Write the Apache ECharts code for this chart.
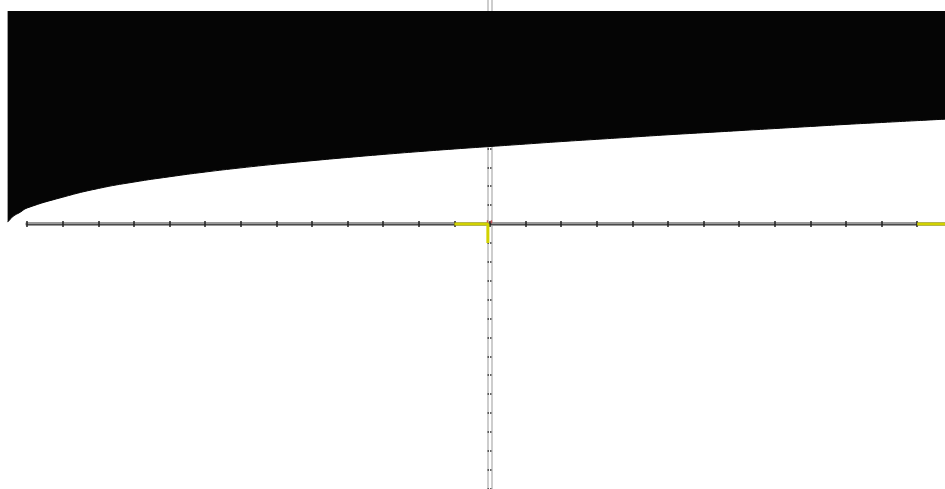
<!DOCTYPE html>
<html>
<head>
<meta charset="utf-8">
<script src="https://cdn.jsdelivr.net/npm/echarts@6/dist/echarts.min.js"></script>
<style>
  html, body { margin: 0; padding: 0; background: #fff; }
  #chart { width: 945px; height: 489px; }
</style>
</head>
<body>
<div id="chart"></div>
<script>
// x positions where the lower edge of the dark band was read
const xs = [-13.55, -13.5, -13.4, -13.2, -13, -12, -11, -10, -9, -8, -7, -6, -5, -4, -3, -2, -1,
            0, 1, 2, 3, 4, 5, 6, 7, 8, 9, 10, 11, 12, 13];
// lower edge of the band (y values); the band fills up to its top edge
const lower = [0.1, 0.2, 0.4, 0.62, 0.85, 1.42, 1.88, 2.22, 2.5, 2.75, 2.97, 3.17, 3.35, 3.52, 3.68, 3.83, 3.97,
               4.1, 4.23, 4.36, 4.48, 4.6, 4.72, 4.83, 4.94, 5.05, 5.16, 5.27, 5.37, 5.47, 5.57];
const bandTop = 11.27;
// yellow highlight segments
const yellowA = [[-1, 0], [-0.06, 0], [-0.06, -1]];
const yellowB = [[12, 0], [13, 0]];
const originMarks = [[-0.07, 0.12], [0.04, 0.12]];

const lowerData = xs.map((x, i) => [x, lower[i]]);

const hidden = { axisLine: { show: false }, axisTick: { show: false }, axisLabel: { show: false }, splitLine: { show: false } };

const chart = echarts.init(document.getElementById('chart'));
const option = {
  animation: false,
  grid: [
    // data grid: x -14..13, y -14..bandTop
    { left: -8.4, width: 961.2, top: 11, bottom: 0.4, outerBoundsMode: 'none' },
    // double vertical axis
    { left: 487.5, width: 4, top: -2.8, height: 491.4, outerBoundsMode: 'none' },
    // horizontal axis, drawn at y = 224
    { left: 27.2, width: 925.6, top: 0, height: 224, outerBoundsMode: 'none' }
  ],
  xAxis: [
    Object.assign({ type: 'value', gridIndex: 0, min: -14, max: 13 }, hidden),
    Object.assign({ type: 'value', gridIndex: 1, min: 0, max: 1 }, hidden),
    {
      type: 'value', gridIndex: 2, position: 'bottom', min: -13, max: 13, interval: 1,
      axisLine: { onZero: false, lineStyle: { color: '#9a9a9a', width: 4 } },
      axisTick: { show: true, inside: false, length: 3, lineStyle: { color: '#222', width: 1.5 } },
      axisLabel: { show: false }, splitLine: { show: false }
    },
    {
      type: 'value', gridIndex: 2, position: 'bottom', min: -13, max: 13, interval: 1,
      axisLine: { onZero: false, lineStyle: { color: '#4a4a4a', width: 1.2 } },
      axisTick: { show: true, inside: true, length: 3, lineStyle: { color: '#222', width: 1.5 } },
      axisLabel: { show: false }, splitLine: { show: false }
    }
  ],
  yAxis: [
    Object.assign({ type: 'value', gridIndex: 0, min: -14, max: bandTop }, hidden),
    {
      type: 'value', gridIndex: 1, position: 'left', min: -14, max: 12, interval: 1,
      axisLine: { onZero: false, lineStyle: { color: '#bdbdbd', width: 1.5 } },
      axisTick: { show: true, inside: true, length: 1.5, lineStyle: { color: '#333', width: 1.5 } },
      axisLabel: { show: false }, splitLine: { show: false }
    },
    {
      type: 'value', gridIndex: 1, position: 'right', min: -14, max: 12, interval: 1,
      axisLine: { onZero: false, lineStyle: { color: '#bdbdbd', width: 1.5 } },
      axisTick: { show: true, inside: true, length: 1.5, lineStyle: { color: '#333', width: 1.5 } },
      axisLabel: { show: false }, splitLine: { show: false }
    },
    Object.assign({ type: 'value', gridIndex: 2, min: 0, max: 1 }, hidden)
  ],
  series: [
    {
      type: 'line', xAxisIndex: 0, yAxisIndex: 0, data: lowerData,
      symbol: 'none', smooth: true, clip: false,
      lineStyle: { color: '#050505', width: 1 },
      areaStyle: { color: '#050505', opacity: 1, origin: 'end' }
    },
    {
      type: 'line', xAxisIndex: 0, yAxisIndex: 0, data: yellowA,
      symbol: 'none', clip: false,
      lineStyle: { color: '#d2d200', width: 3 }
    },
    {
      type: 'line', xAxisIndex: 0, yAxisIndex: 0, data: yellowB,
      symbol: 'none', clip: false,
      lineStyle: { color: '#d2d200', width: 3 }
    },
    {
      type: 'scatter', xAxisIndex: 0, yAxisIndex: 0, data: originMarks,
      symbol: 'rect', symbolSize: [1.5, 3],
      itemStyle: { color: '#c8373d' }
    }
  ]
};
chart.setOption(option);
</script>
</body>
</html>
